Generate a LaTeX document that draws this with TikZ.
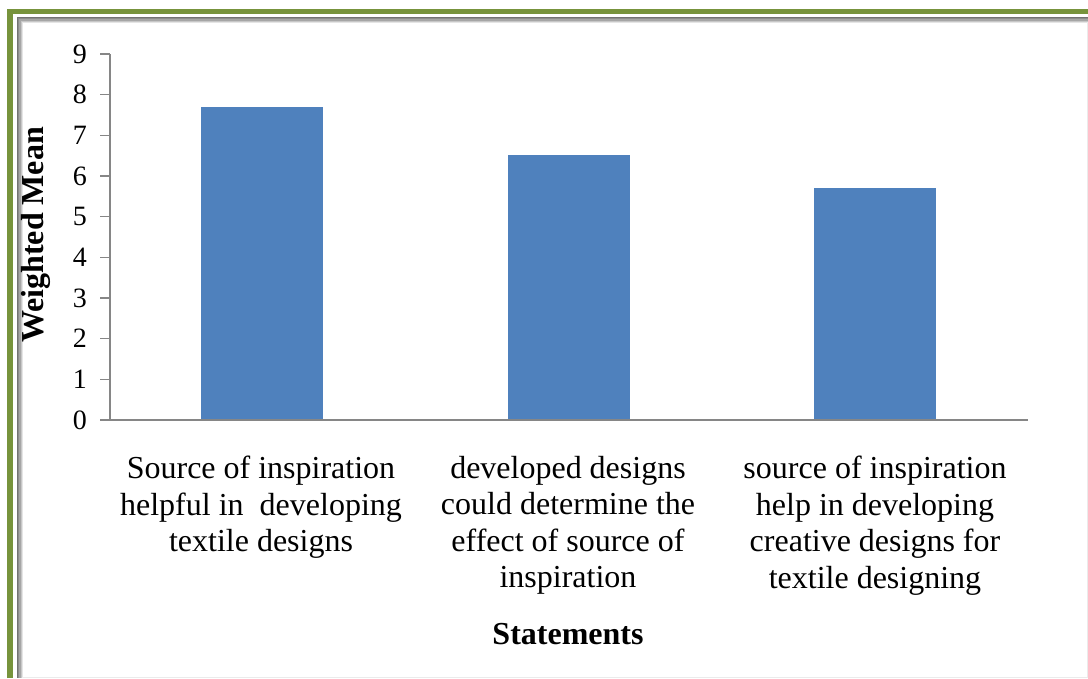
\documentclass[tikz,border=0pt]{standalone}
\usepackage{fontspec}
\setmainfont{Liberation Serif}
\definecolor{barblue}{HTML}{4F81BD}
\definecolor{axisgray}{HTML}{868686}
\definecolor{framegreen}{HTML}{77933C}

\begin{document}
\begin{tikzpicture}[x=1pt, y=-1pt,
    bar/.style = {fill=barblue, draw=none, inner sep=0pt, minimum width=122pt, anchor=south},
    axis/.style = {draw=axisgray, line width=1.5pt},
    ticklabel/.style = {anchor=east, inner sep=0pt, font=\fontsize{28}{32}\selectfont},
    catlabel/.style = {anchor=north, inner sep=0pt, align=center,
        font=\fontsize{32}{36.5}\selectfont},
    axistitle/.style = {inner sep=0pt, font=\fontsize{32}{36}\selectfont\bfseries}]
  \useasboundingbox (0,0) rectangle (1088,678);
  % frame round the chart
  \draw[framegreen, line width=5.5pt] (10,678) -- (10,11.5) -- (1088,11.5);
  \foreach \i/\c in {0/55,1/45,2/35,3/22,4/10}
    \draw[black!\c, line width=1.3pt] ({17.5+\i*1.3},678) -- ({17.5+\i*1.3},{17.5+\i*1.3}) -- (1088,{17.5+\i*1.3});
  \draw[black!8] (1087.5,22) -- (1087.5,678);
  \draw[black!8] (22,677.5) -- (1088,677.5);

  % bars
  \foreach \n/\cx/\v in {1/262/7.7, 2/569/6.5, 3/875/5.7}
    \node[bar, minimum height=\v*40.67pt] (bar\n) at (\cx,420) {};

  % axes
  \coordinate (origin) at (110,420);
  \coordinate (ytop) at (110,54);
  \coordinate (xstart) at (100,420);
  \coordinate (xend) at (1028,420);
  \draw[axis] (ytop) -- (origin);
  \draw[axis] (xstart) -- (xend);
  \foreach \k in {0,...,9} {
    \coordinate (tk\k) at (100,{420-40.67*\k});
    \draw[axis] (tk\k) -- ++(10,0);
    \node[ticklabel] (tick\k) at ([xshift=-13pt]tk\k) {\k};
  }

  % category labels
  \node[catlabel] (cat1) at (261,456) {Source of inspiration\\helpful in \ developing\\textile designs};
  \node[catlabel] (cat2) at (568,456) {developed designs\\could determine the\\effect of source of\\inspiration};
  \node[catlabel] (cat3) at (875,456) {source of inspiration\\help in developing\\creative designs for\\textile designing};

  % axis titles
  \node[axistitle, rotate=90] (ytitle) at (36,235) {Weighted Mean};
  \node[axistitle] (xtitle) at (568,634) {Statements};
\end{tikzpicture}
\end{document}
